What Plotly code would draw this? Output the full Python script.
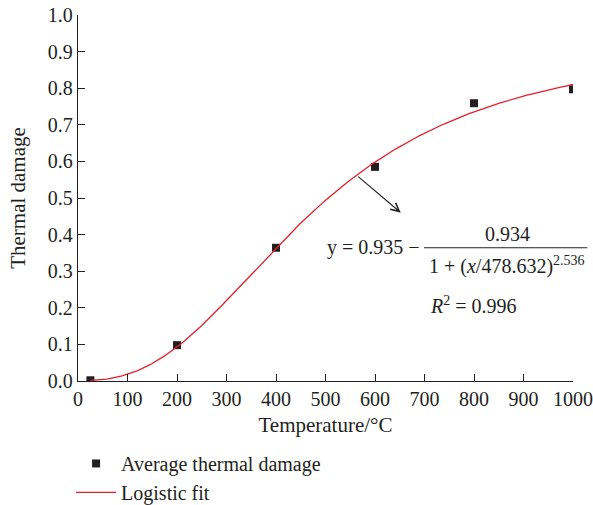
import numpy as np
import plotly.graph_objects as go

# Measured thermal damage at each heating temperature
temperature_c = [25, 200, 400, 600, 800, 1000]
thermal_damage = [0.002, 0.098, 0.364, 0.585, 0.759, 0.797]

# Logistic fit parameters, as printed in the equation label
fit_a = 0.935
fit_b = 0.934
fit_x0 = 478.632
fit_p = 2.536
r_squared = 0.996

x_ticks = [0, 100, 200, 300, 400, 500, 600, 700, 800, 900, 1000]
y_ticks = [0.0, 0.1, 0.2, 0.3, 0.4, 0.5, 0.6, 0.7, 0.8, 0.9, 1.0]

FONT = "Liberation Serif"
INK = "#231f20"
RED = "#e3202a"

fit_x = np.linspace(25, 1000, 300)
fit_y = fit_a - fit_b / (1 + (fit_x / fit_x0) ** fit_p)

fig = go.Figure()
fig.add_trace(go.Scatter(
    x=temperature_c, y=thermal_damage, mode="markers",
    name="Average thermal damage",
    marker=dict(symbol="square", size=8, color=INK),
))
fig.add_trace(go.Scatter(
    x=fit_x, y=fit_y, mode="lines", name="Logistic fit",
    line=dict(color=RED, width=1.3),
))

axis_common = dict(
    showgrid=False, zeroline=False, showline=True, linecolor=INK, linewidth=1.3,
    ticks="inside", ticklen=7, tickwidth=1.2, tickcolor=INK,
    tickfont=dict(family=FONT, size=20, color=INK),
    title_font=dict(family=FONT, size=21, color=INK),
)
fig.update_xaxes(range=[0, 1000], tickvals=x_ticks,
                 ticktext=[str(v) for v in x_ticks],
                 title_text="Temperature/°C", title_standoff=8, **axis_common)
fig.update_yaxes(range=[0, 1.0], tickvals=y_ticks,
                 ticktext=[f"{v:.1f}" for v in y_ticks],
                 title_text="Thermal damage", title_standoff=16, **axis_common)

eq_font = dict(family=FONT, size=20, color=INK)
# Arrow from the fitted curve towards the equation
fig.add_annotation(x=652, y=0.46, ax=563, ay=0.562, xref="x", yref="y",
                   axref="x", ayref="y", text="", showarrow=True,
                   arrowhead=5, arrowsize=1.5, arrowwidth=1.1,
                   arrowcolor=INK, standoff=0)
fig.add_annotation(x=0.694, y=0.364, xref="paper", yref="paper",
                   xanchor="right", yanchor="middle", showarrow=False,
                   text=f"y = {fit_a:.3f} −", font=eq_font)
fig.add_annotation(x=0.867, y=0.401, xref="paper", yref="paper",
                   xanchor="center", yanchor="middle", showarrow=False,
                   text=f"{fit_b:.3f}", font=eq_font)
fig.add_shape(type="line", xref="paper", yref="paper",
              x0=0.699, x1=1.029, y0=0.364, y1=0.364,
              line=dict(color=INK, width=1.1))
fig.add_annotation(x=0.867, y=0.316, xref="paper", yref="paper",
                   xanchor="center", yanchor="middle", showarrow=False,
                   text=f"1 + (<i>x</i>/{fit_x0:.3f})<sup>{fit_p:.3f}</sup>",
                   font=eq_font)
fig.add_annotation(x=0.707, y=0.209, xref="paper", yref="paper",
                   xanchor="left", yanchor="middle", showarrow=False,
                   text=f"<i>R</i><sup>2</sup> = {r_squared:.3f}", font=eq_font)

fig.update_layout(
    width=593, height=505,
    margin=dict(l=78, r=20, t=15, b=124, autoexpand=False),
    paper_bgcolor="white", plot_bgcolor="white",
    showlegend=True,
    legend=dict(x=-0.014, y=-0.172, xanchor="left", yanchor="top",
                itemwidth=40,
                font=dict(family=FONT, size=20, color=INK),
                bgcolor="rgba(0,0,0,0)", tracegroupgap=0),
)

fig.write_html("out.html")
